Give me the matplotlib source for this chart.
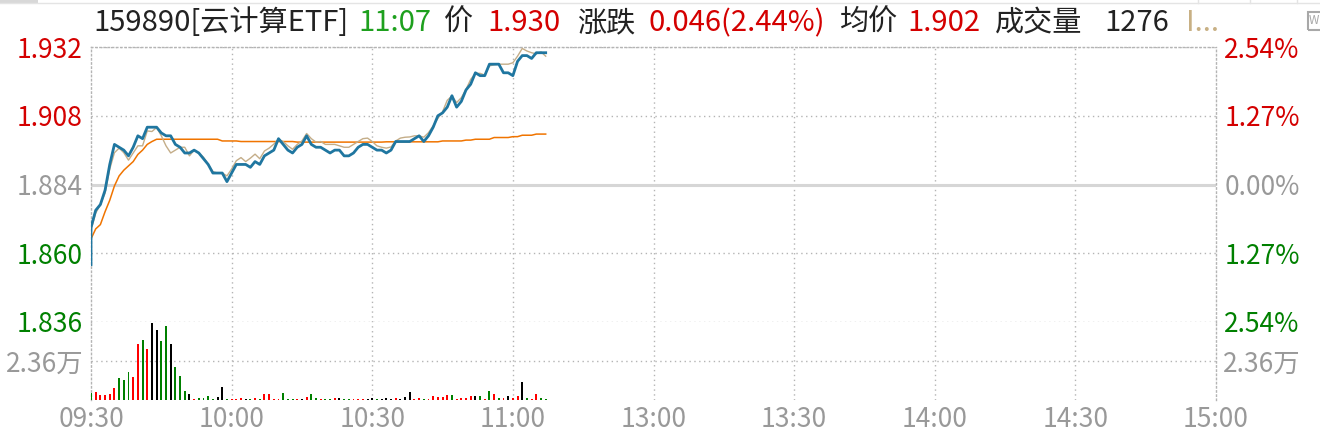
import numpy as np
import matplotlib
matplotlib.use("Agg")
import matplotlib.pyplot as plt
from matplotlib.patches import Rectangle

plt.rcParams['font.family'] = ['Noto Sans CJK SC', 'DejaVu Sans']

pre_close = 1.884
open_price = 1.856

# minute closes 09:30 .. 11:07
price = [1.869, 1.875, 1.877, 1.882, 1.891, 1.898, 1.897, 1.896, 1.894, 1.897,
         1.901, 1.900, 1.904, 1.904, 1.904, 1.902, 1.901, 1.901, 1.898, 1.897,
         1.895, 1.895, 1.896, 1.895, 1.893, 1.891, 1.888, 1.888, 1.888, 1.885,
         1.888, 1.891, 1.891, 1.891, 1.890, 1.892, 1.891, 1.894, 1.895, 1.896,
         1.900, 1.898, 1.896, 1.895, 1.897, 1.898, 1.901, 1.898, 1.897, 1.897,
         1.896, 1.895, 1.896, 1.896, 1.894, 1.894, 1.895, 1.897, 1.898, 1.898,
         1.897, 1.896, 1.896, 1.895, 1.896, 1.899, 1.899, 1.899, 1.899, 1.900,
         1.901, 1.899, 1.901, 1.904, 1.908, 1.909, 1.911, 1.915, 1.911, 1.913,
         1.917, 1.919, 1.923, 1.922, 1.922, 1.926, 1.926, 1.926, 1.923, 1.923,
         1.922, 1.927, 1.929, 1.929, 1.928, 1.930, 1.930, 1.930]

avg_price = [1.8650, 1.8685, 1.8700, 1.8745, 1.8785, 1.8835, 1.8870, 1.8890, 1.8905, 1.8920,
             1.8945, 1.8960, 1.8980, 1.8990, 1.8998, 1.8998, 1.8998, 1.8998, 1.8998, 1.8998,
             1.8998, 1.8998, 1.8998, 1.8998, 1.8998, 1.8998, 1.8998, 1.8998, 1.8992, 1.8992,
             1.8992, 1.8992, 1.8990, 1.8990, 1.8990, 1.8990, 1.8990, 1.8990, 1.8990, 1.8990,
             1.8990, 1.8990, 1.8990, 1.8990, 1.8988, 1.8988, 1.8988, 1.8988, 1.8988, 1.8988,
             1.8988, 1.8988, 1.8988, 1.8988, 1.8988, 1.8988, 1.8988, 1.8988, 1.8988, 1.8988,
             1.8988, 1.8988, 1.8988, 1.8989, 1.8989, 1.8989, 1.8989, 1.8989, 1.8989, 1.8989,
             1.8989, 1.8989, 1.8989, 1.8989, 1.8989, 1.8992, 1.8992, 1.8992, 1.8992, 1.8992,
             1.8995, 1.8995, 1.8998, 1.8998, 1.8998, 1.8998, 1.9004, 1.9004, 1.9004, 1.9004,
             1.9007, 1.9007, 1.9012, 1.9012, 1.9012, 1.9016, 1.9016, 1.9016]

ref_line = [1.8680, 1.8740, 1.8770, 1.8810, 1.8894, 1.8951, 1.8967, 1.8951, 1.8925, 1.8950,
            1.8975, 1.8975, 1.9027, 1.9025, 1.9039, 1.9010, 1.8975, 1.8950, 1.8960, 1.8970,
            1.8970, 1.8940, 1.8960, 1.8950, 1.8935, 1.8910, 1.8885, 1.8880, 1.8880, 1.8870,
            1.8894, 1.8923, 1.8934, 1.8920, 1.8932, 1.8946, 1.8930, 1.8957, 1.8967, 1.8981,
            1.8998, 1.8990, 1.8975, 1.8963, 1.8980, 1.8992, 1.9018, 1.9000, 1.8988, 1.8990,
            1.8980, 1.8980, 1.8980, 1.8975, 1.8970, 1.8970, 1.8980, 1.8990, 1.9000, 1.9002,
            1.8990, 1.8975, 1.8970, 1.8967, 1.8971, 1.8992, 1.9002, 1.9005, 1.9006, 1.9010,
            1.9010, 1.9005, 1.9021, 1.9045, 1.9071, 1.9094, 1.9134, 1.9149, 1.9126, 1.9143,
            1.9172, 1.9207, 1.9228, 1.9228, 1.9222, 1.9254, 1.9258, 1.9260, 1.9260, 1.9260,
            1.9265, 1.9288, 1.9315, 1.9306, 1.9300, 1.9296, 1.9303, 1.9288]

volume = [4400, 5000, 3000, 3000, 3600, 7300, 13300, 12100, 16900, 13900,
          33900, 36300, 30900, 46800, 42400, 35700, 44800, 33900, 20000, 14500,
          5400, 3600, 600, 1200, 1200, 2400, 600, 1800, 7900, 600,
          800, 600, 1000, 400, 600, 1000, 600, 3600, 3600, 600,
          400, 4200, 600, 600, 400, 800, 1800, 3600, 1200, 600,
          600, 600, 1200, 1200, 600, 600, 600, 600, 600, 600,
          1200, 600, 600, 1200, 600, 1200, 600, 1800, 4800, 600,
          1200, 600, 600, 2400, 1800, 1800, 3000, 3000, 600, 1200,
          1200, 2400, 2400, 2400, 600, 5400, 3600, 1200, 1200, 2400,
          1200, 2400, 10900, 1200, 600, 3600, 1200, 600]

# r = up, g = down, k = flat
vol_dir = list("grrrrrgggrrgrkkggkggg" "kr" "ggggkkgr"
               "rrkgrgrrrrgggr"
               "krggrggrkggrrrkkgkkkrkkkrrgrrrrrgrrrrkgrgrgrkrrkgrrg")

time_ticks = [0, 30, 60, 90, 120, 150, 180, 210, 240]
time_labels = ['09:30', '10:00', '10:30', '11:00', '13:00', '13:30', '14:00', '14:30', '15:00']
price_ticks = [1.836, 1.860, 1.884, 1.908, 1.932]
price_labels = ['1.836', '1.860', '1.884', '1.908', '1.932']
pct_labels = ['2.54%', '1.27%', '0.00%', '1.27%', '2.54%']
tick_colors = ['#008000', '#008000', '#999999', '#d40000', '#d40000']
vol_mid = 23600

RED = '#d40000'
GRID = '#b4b4b4'
DOT = (0, (1, 2.5))

W, H = 1320, 438
fig = plt.figure(figsize=(W / 100, H / 100), dpi=100)
fig.patch.set_facecolor('white')

left, right = 91, 1216
p_top, p_bot, v_bot = 47, 322, 400
ax = fig.add_axes([left / W, 1 - p_bot / H, (right - left) / W, (p_bot - p_top) / H])
axv = fig.add_axes([left / W, 1 - v_bot / H, (right - left) / W, (v_bot - p_bot) / H])

minutes = np.arange(len(price))

# grid
for t in time_ticks[1:-1]:
    ax.axvline(t, color=GRID, lw=1, ls=DOT, zorder=0)
    axv.axvline(t, color=GRID, lw=1, ls=DOT, zorder=0)
for p in price_ticks:
    if p == pre_close:
        ax.axhline(p, color='#d6d6d6', lw=2.2, zorder=0)
    else:
        ax.axhline(p, color=GRID, lw=1, ls=DOT, zorder=0)
axv.axhline(vol_mid, color=GRID, lw=1, ls=DOT, zorder=0)

ax.plot(np.r_[0, minutes], np.r_[open_price, price], color='#1f76a0', lw=2.0, zorder=4)
ax.plot(minutes, ref_line, color='#c4ad88', lw=1.0, zorder=3)
ax.plot(minutes, avg_price, color='#f07400', lw=1.1, zorder=2)

ax.set_xlim(0, 240)
ax.set_ylim(1.836, 1.932)
ax.set_yticks(price_ticks)
ax.set_yticklabels(price_labels, fontsize=19)
for lab, c in zip(ax.get_yticklabels(), tick_colors):
    lab.set_color(c)
ax.set_xticks([])
ax.tick_params(axis='y', length=0, pad=6)

axr = ax.twinx()
axr.set_ylim(1.836, 1.932)
axr.set_yticks(price_ticks)
axr.set_yticklabels(pct_labels, fontsize=19)
for lab, c in zip(axr.get_yticklabels(), tick_colors):
    lab.set_color(c)
axr.tick_params(axis='y', length=0, pad=6)

colmap = {'r': '#ff0000', 'g': '#008000', 'k': '#000000'}
axv.bar(minutes, volume, width=0.42, color=[colmap[c] for c in vol_dir], zorder=3)
axv.set_xlim(0, 240)
axv.set_ylim(0, 2 * vol_mid)
axv.set_yticks([vol_mid])
axv.set_yticklabels(['2.36万'], fontsize=19, color='#999999')
axv.tick_params(axis='y', length=0, pad=5)
axv.set_xticks(time_ticks)
axv.set_xticklabels(time_labels, fontsize=19, color='#999999')
axv.tick_params(axis='x', length=0, pad=4)

axvr = axv.twinx()
axvr.set_ylim(0, 2 * vol_mid)
axvr.set_yticks([vol_mid])
axvr.set_yticklabels(['2.36万'], fontsize=19, color='#999999')
axvr.tick_params(axis='y', length=0, pad=5)

for a in (ax, axr, axv, axvr):
    for s in a.spines.values():
        s.set_visible(False)
    a.set_facecolor('none')
for a, sides in ((ax, ('left', 'right', 'top')), (axv, ('left', 'right'))):
    for k in sides:
        a.spines[k].set_visible(True)
        a.spines[k].set_color(GRID)
        a.spines[k].set_linestyle((0, (1, 2)))
        a.spines[k].set_linewidth(1)

# header
header = [
    (93, '159890[云计算ETF]', '#222222'),
    (358, '11:07', '#1ea01e'),
    (444, '价', '#222222'),
    (487, '1.930', RED),
    (577, '涨跌', '#222222'),
    (648, '0.046(2.44%)', RED),
    (840, '均价', '#222222'),
    (907, '1.902', RED),
    (995, '成交量', '#222222'),
    (1104, '1276', '#222222'),
    (1186, 'I...', '#c8b084'),
]
for x, s, c in header:
    fig.text(x / W, 1 - 23 / H, s, color=c, fontsize=21, ha='left', va='center')

# top toolbar strip
fig.add_artist(plt.Line2D([0, 1], [1 - 3 / H, 1 - 3 / H], color='#e4e4e4', lw=1))
fig.add_artist(Rectangle((0, 1 - 3 / H), 38 / W, 3 / H, color='#d8d8d8', lw=0))
for xs in (1198, 1250, 1297):
    fig.add_artist(plt.Line2D([xs / W, xs / W], [1, 1 - 3 / H], color='#e4e4e4', lw=1))
fig.add_artist(Rectangle((1308 / W, 1 - 30 / H), 14 / W, 18 / H, fill=False,
                         ec='#a8a8a8', lw=1.5))
fig.text(1309 / W, 1 - 21 / H, 'W', color='#a8a8a8', fontsize=8.5, ha='left', va='center')

fig.savefig('out.png', dpi=100, facecolor='white')
